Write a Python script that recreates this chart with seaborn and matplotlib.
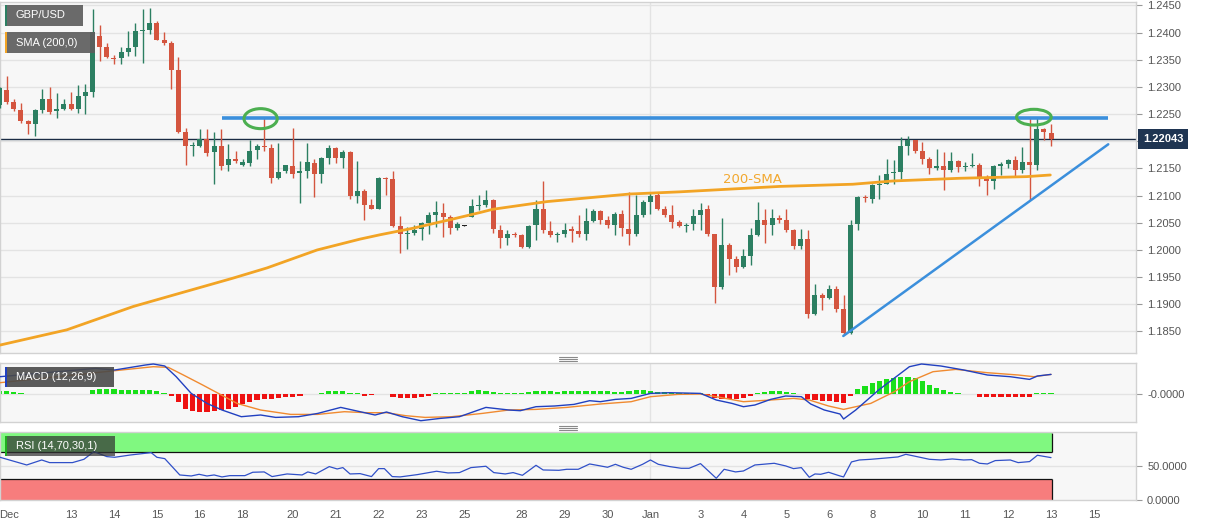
import numpy as np
import matplotlib
matplotlib.use("Agg")
import matplotlib.pyplot as plt
import seaborn as sns
from matplotlib.patches import Rectangle, Ellipse
from matplotlib.lines import Line2D

# ---------------- data (4H GBP/USD candles) ----------------
open_ = [1.2266, 1.2295, 1.2273, 1.2257, 1.2237, 1.2231, 1.2257, 1.2277, 1.2255, 1.2260,
         1.2269, 1.2260, 1.2284, 1.2291, 1.2394, 1.2373, 1.2354, 1.2354, 1.2364, 1.2373,
         1.2403, 1.2405, 1.2418, 1.2387, 1.2381, 1.2332, 1.2217, 1.2191, 1.2192, 1.2205,
         1.2180, 1.2192, 1.2156, 1.2168, 1.2156, 1.2160, 1.2184, 1.2192, 1.2187, 1.2132,
         1.2145, 1.2154, 1.2142, 1.2146, 1.2160, 1.2140, 1.2170, 1.2188, 1.2170, 1.2181,
         1.2099, 1.2109, 1.2082, 1.2076, 1.2133, 1.2130, 1.2044, 1.2029, 1.2031, 1.2038,
         1.2050, 1.2064, 1.2068, 1.2060, 1.2041, 1.2045, 1.2061, 1.2081, 1.2082, 1.2092,
         1.2037, 1.2022, 1.2030, 1.2027, 1.2006, 1.2046, 1.2076, 1.2035, 1.2027, 1.2029,
         1.2038, 1.2035, 1.2030, 1.2054, 1.2071, 1.2056, 1.2046, 1.2067, 1.2038, 1.2030,
         1.2064, 1.2089, 1.2101, 1.2075, 1.2064, 1.2052, 1.2045, 1.2048, 1.2064, 1.2075,
         1.2029, 1.1932, 1.2009, 1.1984, 1.1968, 1.1989, 1.2027, 1.2055, 1.2046, 1.2059,
         1.2056, 1.2037, 1.2008, 1.2021, 1.1882, 1.1918, 1.1911, 1.1929, 1.1891, 1.1848,
         1.2047, 1.2098, 1.2093, 1.2120, 1.2122, 1.2141, 1.2144, 1.2191, 1.2203, 1.2183,
         1.2168, 1.2150, 1.2154, 1.2148, 1.2163, 1.2153, 1.2154, 1.2157, 1.2133, 1.2127,
         1.2155, 1.2158, 1.2165, 1.2148, 1.2161, 1.2157, 1.2222, 1.2216]
high = [1.2300, 1.2321, 1.2277, 1.2270, 1.2240, 1.2260, 1.2297, 1.2300, 1.2288, 1.2277,
        1.2290, 1.2303, 1.2305, 1.2444, 1.2414, 1.2381, 1.2358, 1.2373, 1.2403, 1.2417,
        1.2444, 1.2446, 1.2421, 1.2402, 1.2384, 1.2356, 1.2225, 1.2198, 1.2223, 1.2222,
        1.2217, 1.2222, 1.2195, 1.2182, 1.2168, 1.2202, 1.2195, 1.2243, 1.2195, 1.2196,
        1.2157, 1.2224, 1.2164, 1.2196, 1.2167, 1.2171, 1.2193, 1.2189, 1.2184, 1.2183,
        1.2164, 1.2113, 1.2093, 1.2135, 1.2134, 1.2145, 1.2062, 1.2043, 1.2046, 1.2052,
        1.2070, 1.2090, 1.2086, 1.2064, 1.2052, 1.2046, 1.2093, 1.2102, 1.2111, 1.2093,
        1.2046, 1.2037, 1.2033, 1.2030, 1.2046, 1.2092, 1.2127, 1.2054, 1.2033, 1.2050,
        1.2044, 1.2064, 1.2078, 1.2076, 1.2073, 1.2062, 1.2070, 1.2073, 1.2107, 1.2101,
        1.2092, 1.2105, 1.2104, 1.2081, 1.2083, 1.2055, 1.2050, 1.2075, 1.2086, 1.2083,
        1.2030, 1.2058, 1.2012, 1.1989, 1.2001, 1.2040, 1.2089, 1.2075, 1.2076, 1.2064,
        1.2076, 1.2038, 1.2038, 1.2037, 1.1937, 1.1921, 1.1935, 1.1933, 1.1917, 1.2055,
        1.2099, 1.2101, 1.2122, 1.2138, 1.2167, 1.2165, 1.2208, 1.2210, 1.2203, 1.2199,
        1.2171, 1.2185, 1.2181, 1.2181, 1.2165, 1.2162, 1.2178, 1.2160, 1.2138, 1.2156,
        1.2162, 1.2168, 1.2173, 1.2190, 1.2242, 1.2242, 1.2224, 1.2232]
low = [1.2262, 1.2268, 1.2256, 1.2234, 1.2214, 1.2210, 1.2252, 1.2251, 1.2242, 1.2257,
       1.2257, 1.2252, 1.2250, 1.2282, 1.2348, 1.2354, 1.2343, 1.2343, 1.2357, 1.2357,
       1.2344, 1.2398, 1.2386, 1.2378, 1.2297, 1.2216, 1.2157, 1.2173, 1.2190, 1.2173,
       1.2121, 1.2147, 1.2145, 1.2160, 1.2154, 1.2155, 1.2167, 1.2182, 1.2124, 1.2130,
       1.2142, 1.2133, 1.2086, 1.2133, 1.2098, 1.2124, 1.2159, 1.2160, 1.2150, 1.2093,
       1.2086, 1.2056, 1.2075, 1.2075, 1.2101, 1.2043, 1.1994, 1.2001, 1.2027, 1.2019,
       1.2029, 1.2043, 1.2024, 1.2029, 1.2037, 1.2044, 1.2060, 1.2073, 1.2079, 1.2032,
       1.2003, 1.2009, 1.2023, 1.2003, 1.2003, 1.2018, 1.2032, 1.2024, 1.2015, 1.2024,
       1.2015, 1.2024, 1.2019, 1.2052, 1.2047, 1.2041, 1.2027, 1.2025, 1.2009, 1.2025,
       1.2061, 1.2067, 1.2073, 1.2061, 1.2041, 1.2043, 1.2033, 1.2037, 1.2037, 1.2025,
       1.1902, 1.1929, 1.1954, 1.1960, 1.1966, 1.1972, 1.2025, 1.2013, 1.2027, 1.2050,
       1.2033, 1.2001, 1.2001, 1.1874, 1.1880, 1.1889, 1.1909, 1.1886, 1.1843, 1.1845,
       1.2037, 1.2089, 1.2086, 1.2093, 1.2121, 1.2122, 1.2130, 1.2175, 1.2178, 1.2158,
       1.2140, 1.2148, 1.2110, 1.2144, 1.2144, 1.2146, 1.2153, 1.2117, 1.2101, 1.2113,
       1.2138, 1.2150, 1.2136, 1.2141, 1.2092, 1.2147, 1.2202, 1.2191]
close = [1.2298, 1.2273, 1.2259, 1.2237, 1.2232, 1.2257, 1.2277, 1.2254, 1.2259, 1.2269,
         1.2260, 1.2284, 1.2290, 1.2402, 1.2373, 1.2356, 1.2352, 1.2364, 1.2372, 1.2403,
         1.2404, 1.2418, 1.2387, 1.2381, 1.2332, 1.2217, 1.2192, 1.2193, 1.2205, 1.2178,
         1.2192, 1.2155, 1.2168, 1.2163, 1.2162, 1.2182, 1.2191, 1.2189, 1.2132, 1.2143,
         1.2156, 1.2140, 1.2146, 1.2161, 1.2140, 1.2170, 1.2188, 1.2170, 1.2181, 1.2099,
         1.2108, 1.2082, 1.2076, 1.2133, 1.2131, 1.2044, 1.2029, 1.2032, 1.2037, 1.2050,
         1.2064, 1.2070, 1.2061, 1.2041, 1.2047, 1.2045, 1.2081, 1.2083, 1.2092, 1.2038,
         1.2022, 1.2029, 1.2027, 1.2006, 1.2044, 1.2076, 1.2037, 1.2027, 1.2029, 1.2037,
         1.2035, 1.2030, 1.2054, 1.2071, 1.2056, 1.2046, 1.2067, 1.2040, 1.2030, 1.2064,
         1.2089, 1.2100, 1.2075, 1.2064, 1.2052, 1.2045, 1.2046, 1.2062, 1.2073, 1.2029,
         1.1932, 1.2009, 1.1984, 1.1968, 1.1989, 1.2027, 1.2055, 1.2046, 1.2058, 1.2056,
         1.2037, 1.2008, 1.2021, 1.1882, 1.1917, 1.1911, 1.1929, 1.1891, 1.1848, 1.2046,
         1.2097, 1.2095, 1.2119, 1.2122, 1.2140, 1.2144, 1.2191, 1.2203, 1.2183, 1.2168,
         1.2150, 1.2154, 1.2148, 1.2163, 1.2153, 1.2154, 1.2157, 1.2133, 1.2127, 1.2154,
         1.2158, 1.2165, 1.2148, 1.2161, 1.2157, 1.2222, 1.2217, 1.2204]

# 200-period SMA, read at points along the curve (candle index, price)
sma_idx = [0.07, 9.4, 18.7, 24.3, 32.6, 37.4, 44.4, 50.4, 53.2, 57.8, 63.4, 67.2, 69.0,
           76.5, 88.1, 95.1, 109.1, 119.3, 124.9, 134.3, 143.6, 146.9]
sma_val = [1.1825, 1.1853, 1.1896, 1.1917, 1.1948, 1.1967, 1.2000, 1.2020, 1.2028, 1.2040,
           1.2057, 1.2069, 1.2075, 1.2089, 1.2103, 1.2107, 1.2117, 1.2121, 1.2127, 1.2132,
           1.2135, 1.2138]

last_price = 1.22043
resistance = 1.22433
trend_idx = [117.96, 155.0]
trend_val = [1.18417, 1.21945]
resist_idx = [31.06, 155.0]

# MACD (12,26,9), values in units of 1e-4
macd_idx = [0.07, 13.4, 16.1, 20.4, 21.5, 23.1, 24.7, 26.8, 29.0, 31.1, 33.8, 36.5, 38.6, 41.8,
            44.5, 47.7, 50.4, 52.5, 54.1, 56.3, 58.9, 61.6, 64.3, 68.0, 71.2, 72.8, 75.0, 77.6,
            80.3, 82.5, 84.0, 86.1, 88.3, 91.0, 93.7, 98.0, 100.2, 102.4, 104.0, 105.6, 107.8,
            109.9, 112.1, 113.4, 115.3, 117.5, 118.0, 119.7, 122.9, 127.2, 128.9, 131.6, 134.8,
            138.1, 141.3, 144.0, 145.1, 147.0]
macd_e4 = [17, 25.3, 23.7, 28.7, 29.7, 27.7, 17, 0.3, -9.7, -16.3, -23, -21.3, -23.7, -23,
           -19.7, -13.7, -18, -21.3, -18.3, -23, -27, -24.7, -23, -13.7, -16.3, -17, -13, -12.3,
           -10.7, -7, -8, -5.7, -4.7, 0.3, 1, 0.3, -6.3, -9.7, -13, -11.3, -5.7,
           -2.3, -3, -10.3, -16.3, -20.3, -25.3, -16.3, 3.7, 27, 29.7, 27.7, 23.7,
           18.7, 17, 14.3, 17.7, 19.3]
sig_idx = [0.07, 16.1, 21.5, 23.6, 25.7, 28.4, 30.6, 33.2, 36.5, 40.7, 44.5, 48.2, 51.4, 54.1,
           56.8, 59.5, 63.2, 67.5, 71.2, 75.0, 79.3, 84.0, 88.3, 91.0, 94.8, 98.0, 100.2, 104.0,
           107.8, 111.0, 113.2, 115.9, 118.0, 121.8, 125.1, 127.2, 130.5, 133.7, 138.1, 142.4,
           144.6, 147.0]
sig_e4 = [11, 23, 27, 26.3, 18.7, 8.7, 0.3, -9.7, -16.3, -20.7, -20.7, -18, -19, -19,
          -22, -23.7, -23, -19.7, -16.3, -15.7, -13.7, -10.3, -8, -3, -0.7, -0.3, -3, -8,
          -6.3, -4.7, -6.3, -12.3, -15.7, -9.7, 2, 12, 22, 24.3, 21, 18.7,
          17, 19.3]
hist_e4 = [3, 3, 2, 1, -0.5, -0.5, -0.5, -0.5, -0.5, -0.5, -0.5, -0.5, -0.5, 4,
           5, 5, 5, 4, 4, 4, 4, 4, 3, 1, -2, -8, -15, -17, -18, -18,
           -17, -16, -15, -13, -10, -8, -6, -5, -5, -4, -3, -3, -2, -0.5, -0.5,
           0.5, 3, 3, 3, 0.5, 0.5, -2, -1, -0.5, -0.5, -3, -4, -4, -4, -3,
           -2, 0.5, 0.5, 0.5, 0.5, 0.5, 3, 4, 3, 2, 0.5, 0.5, 0.5, 0.5, 2,
           3, 3, 3, 2, 3, 3, 3, 3, 3, 3, 3, 2, 2, 3, 4,
           4, 3, 2, 2, 1, 0.5, 0.5, 0.5, 0.5, -2, -4, -5, -5, -5, -4,
           -2, 0.5, 2, 3, 3, 2, 0.5, -0.5, -5, -6, -7, -7, -8, -9, -2,
           5, 8, 11, 13, 15, 16, 17, 17, 16, 13, 9, 6, 4, 2, 0.5,
           -0.5, -0.5, -3, -3, -3, -3, -3, -3, -3, -3, 0.5, 0.5, 0.5]

# RSI (14,70,30,1)
rsi_idx = [0.07, 3.8, 5.9, 7.0, 10.2, 11.8, 13.2, 15.0, 16.1, 18.3,
           21.2, 22.0, 23.1, 25.2, 26.8, 27.9, 29.0, 30.0, 31.1, 32.2,
           34.3, 35.4, 37.0, 38.1, 40.2, 42.3, 43.1, 44.2, 46.1, 47.2,
           48.0, 49.0, 50.4, 52.0, 53.0, 53.8, 54.9, 56.0, 58.4, 61.1,
           62.7, 64.3, 65.9, 68.0, 69.1, 70.7, 71.8, 73.1, 75.0, 76.0,
           78.2, 79.3, 80.9, 82.5, 84.0, 85.0, 86.1, 87.2, 88.3, 89.9,
           91.0, 92.1, 93.7, 95.3, 96.4, 98.0, 100.2, 101.3, 102.9, 104.0,
           105.6, 106.7, 108.3, 109.9, 111.0, 112.1, 113.2, 114.0, 114.8, 115.9,
           117.5, 118.0, 119.1, 120.2, 121.8, 124.0, 125.6, 126.7, 127.8, 130.0,
           131.6, 133.2, 134.8, 135.9, 137.0, 138.1, 139.2, 141.3, 142.4, 144.0,
           145.1, 147.0]
rsi_val = [62.6, 51.2, 58.6, 54.7, 54.7, 59.6, 71.0, 63.6, 62.6, 66.0,
           69.5, 62.6, 60.6, 36.4, 34.9, 37.4, 34.9, 36.4, 33.5, 35.4,
           35.4, 40.4, 40.9, 34.0, 37.9, 36.4, 40.9, 37.9, 48.8, 45.3,
           47.3, 37.9, 38.4, 34.0, 45.8, 45.8, 34.0, 33.5, 36.9, 41.9,
           39.4, 39.9, 47.3, 49.3, 39.9, 37.9, 39.9, 35.9, 50.7, 43.8,
           43.3, 44.8, 44.8, 52.7, 49.8, 47.8, 52.2, 47.8, 44.8, 52.2,
           58.6, 52.2, 48.8, 46.3, 46.3, 53.2, 31.5, 44.8, 40.9, 42.3,
           51.2, 52.2, 53.7, 49.8, 45.8, 47.3, 33.0, 37.9, 37.4, 40.4,
           34.9, 33.5, 55.7, 58.6, 59.6, 61.6, 63.1, 67.0, 64.6, 59.6,
           58.6, 60.1, 58.6, 59.1, 53.7, 52.7, 57.7, 58.6, 54.7, 56.2,
           65.6, 62.1]

x_labels = ['Dec', '13', '14', '15', '16', '18', '20', '21', '22', '23', '25', '28', '29',
            '30', 'Jan', '3', '4', '5', '6', '8', '10', '11', '12', '13', '15']
x_label_idx = [1.4, 10, 16, 22, 28, 34, 41, 47, 53, 59, 65, 73, 79, 85, 91, 98, 104, 110,
               116, 122, 129, 135, 141, 147, 153]
price_ticks = [1.1850, 1.1900, 1.1950, 1.2000, 1.2050, 1.2100, 1.2150, 1.2200, 1.2250,
               1.2300, 1.2350, 1.2400, 1.2450]

# ---------------- style ----------------
sns.set_style("white")
plt.rcParams['font.family'] = ['Liberation Sans', 'DejaVu Sans']

GREEN = '#2c7f62'
RED = '#d4553f'
ORANGE = '#f2a425'
BLUE_LINE = '#3b8fdc'
GRID = '#e3e3e3'
BG = '#f7f7f7'
SPINE = '#d2d2d2'
LBL = '#555555'

W, H = 1207, 526
fig = plt.figure(figsize=(W / 100, H / 100), dpi=100)
fig.patch.set_facecolor('white')

def fy(py):
    return 1 - py / H

right_px = 1136
ax = fig.add_axes([0, fy(352.5), right_px / W, (352.5 - 2) / H])
axm = fig.add_axes([0, fy(421.7), right_px / W, (421.7 - 362.7) / H])
axr = fig.add_axes([0, fy(500), right_px / W, (500 - 431.7) / H])

XL = (0.067, 158.88)
jan_idx = x_label_idx[x_labels.index('Jan')]
for a in (ax, axm, axr):
    a.set_facecolor(BG)
    a.set_xlim(*XL)
    for s in a.spines.values():
        s.set_color(SPINE)
        s.set_linewidth(1)
    a.yaxis.tick_right()
    a.tick_params(axis='y', length=4, color='#999999', labelsize=8, labelcolor=LBL, pad=4)
    a.axvline(jan_idx, color=GRID, lw=1, zorder=0)

# ---------------- main price panel ----------------
idx = np.arange(len(close))
o = np.array(open_); c = np.array(close); hi = np.array(high); lo = np.array(low)
cols = np.where(c > o, GREEN, np.where(c < o, RED, '#222222'))
ax.vlines(idx, lo, hi, colors=cols, linewidth=1.0, zorder=3)
ax.bar(idx, np.maximum(np.abs(c - o), 0.00012), bottom=np.minimum(o, c), width=0.7,
       color=cols, linewidth=0, zorder=4)

sns.lineplot(x=sma_idx, y=sma_val, ax=ax, color=ORANGE, linewidth=2, zorder=5, legend=False)
ax.text(101.1, 1.2130, '200-SMA', color=ORANGE, fontsize=9.5, family='DejaVu Sans',
        ha='left', va='center', zorder=6, alpha=0.95)

ax.axhline(last_price, color='#1b2c44', lw=1, zorder=2)
ax.plot(resist_idx, [resistance, resistance], color=BLUE_LINE, lw=2.6, zorder=6,
        solid_capstyle='butt')
ax.plot(trend_idx, trend_val, color=BLUE_LINE, lw=1.8, zorder=6)
for cx, cy, w, h in [(36.5, 1.22417, 4.65, 0.00368), (144.6, 1.22444, 4.85, 0.0029)]:
    ax.add_patch(Ellipse((cx, cy), w, h, fill=False, ec='#4caf50', lw=2.2, zorder=7))

ax.set_ylim(1.18113, 1.24564)
ax.set_yticks(price_ticks)
ax.set_yticklabels(['' if abs(t - last_price) < 0.0015 else f'{t:.4f}' for t in price_ticks])
ax.grid(axis='y', color=GRID, lw=1)
ax.set_axisbelow(True)
ax.tick_params(axis='x', bottom=False, labelbottom=False)
ax.text(1163 / right_px, last_price, f'{last_price:.5f}', transform=ax.get_yaxis_transform(),
        ha='center', va='center', color='white', fontsize=8, fontweight='bold',
        bbox=dict(boxstyle='square,pad=0.45', fc='#1f3552', ec='none'), clip_on=False, zorder=20)

# ---------------- MACD panel ----------------
hist = np.array(hist_e4) * 1e-4
hcols = np.where(hist > 0, '#19e019', '#ee1111')
axm.axhline(0, color=GRID, lw=1, zorder=0)
axm.bar(idx, hist, width=0.72, color=hcols, linewidth=0, zorder=2)
sns.lineplot(x=sig_idx, y=np.array(sig_e4) * 1e-4, ax=axm, color='#f08a30', linewidth=1,
             zorder=3, legend=False)
sns.lineplot(x=macd_idx, y=np.array(macd_e4) * 1e-4, ax=axm, color='#2140c0', linewidth=1,
             zorder=4, legend=False)
axm.set_ylim(-0.0028, 0.0031)
axm.set_yticks([0])
axm.set_yticklabels(['-0.0000'])
axm.tick_params(axis='x', bottom=False, labelbottom=False)

# ---------------- RSI panel ----------------
band_end = 147.1
axr.add_patch(Rectangle((XL[0], 70), band_end - XL[0], 28.2, fc='#80f880', ec='none', zorder=1))
axr.add_patch(Rectangle((XL[0], -0.7), band_end - XL[0], 30.7, fc='#f77d7d', ec='none', zorder=1))
axr.hlines([70, 30], XL[0], band_end, colors='#111111', lw=0.9, zorder=2)
axr.vlines([band_end], 70, 98.2, colors='#111111', lw=0.9, zorder=2)
axr.vlines([band_end], -0.7, 30, colors='#111111', lw=0.9, zorder=2)
axr.axhline(50, color=GRID, lw=1, zorder=0)
sns.lineplot(x=rsi_idx, y=rsi_val, ax=axr, color='#3050c8', linewidth=0.9, zorder=4, legend=False)
axr.set_ylim(-0.7, 100.5)
axr.set_yticks([0, 50])
axr.set_yticklabels(['0.0000', '50.0000'])
axr.set_xticks(x_label_idx)
axr.set_xticklabels(x_labels)
axr.tick_params(axis='x', length=3, color='#999999', labelsize=8, labelcolor=LBL, pad=4)

for a in (ax, axm, axr):
    a.set_xlabel('')
    a.set_ylabel('')

# ---------------- legend boxes ----------------
def label_box(x, y, w, h, text, bar_color, fc='#5e5e5e', alpha=0.92):
    fig.add_artist(Rectangle((x / W, fy(y + h)), w / W, h / H, transform=fig.transFigure,
                             fc=fc, ec='none', alpha=alpha, zorder=30))
    fig.add_artist(Rectangle((x / W, fy(y + h)), 2.2 / W, h / H, transform=fig.transFigure,
                             fc=bar_color, ec='none', zorder=31))
    fig.text((x + 11) / W, fy(y + h / 2), text, color='white', fontsize=8,
             ha='left', va='center', zorder=32)

label_box(5, 5, 78, 21, 'GBP/USD', '#2c7f62')
label_box(5, 32, 90, 21, 'SMA (200,0)', ORANGE)
label_box(5, 367, 109, 20, 'MACD (12,26,9)', '#2140c0', fc='#4a4a4a', alpha=0.9)
label_box(5, 436, 110, 20, 'RSI (14,70,30,1)', '#1fae1f', fc='#333333', alpha=0.72)

# panel resize handles
for yy in (356.5, 358.5, 360.5, 426.3, 428.3, 430.3):
    fig.add_artist(Line2D([559 / W, 577 / W], [fy(yy), fy(yy)], transform=fig.transFigure,
                          color='#8a8a8a', lw=0.8))

fig.savefig('out.png', dpi=100, facecolor='white')
